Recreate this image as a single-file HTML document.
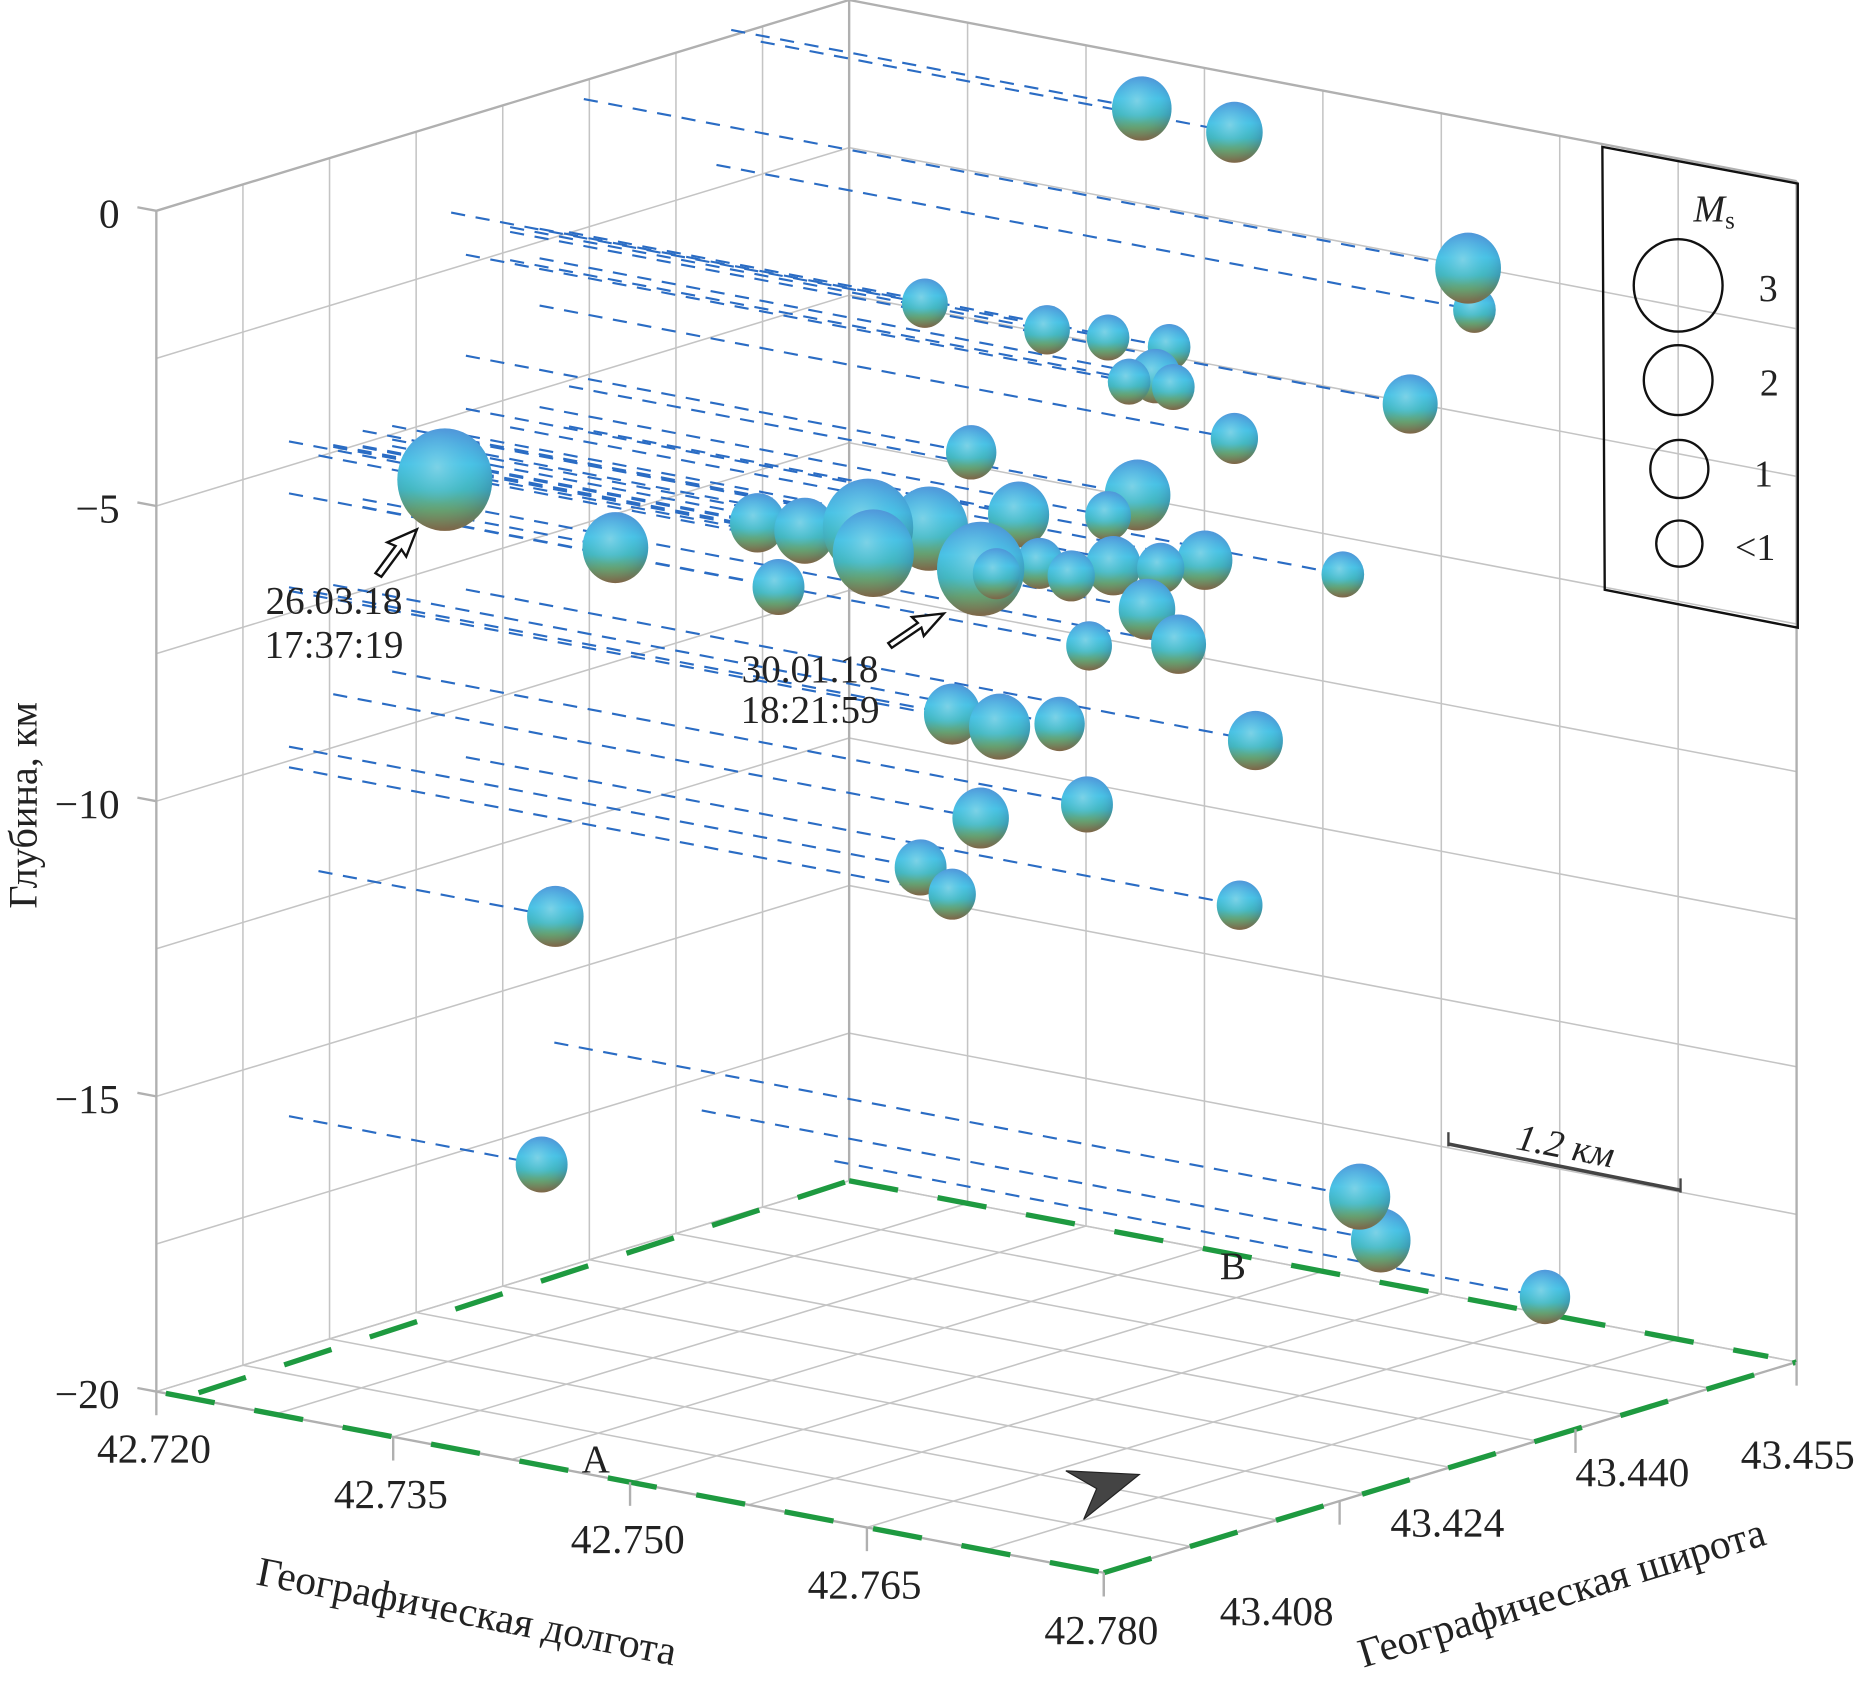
<!DOCTYPE html>
<html><head><meta charset="utf-8"><title>Hypocenters 3D</title>
<style>
html,body{margin:0;padding:0;background:#fff;}
svg{display:block;font-family:"Liberation Serif","DejaVu Serif",serif;}
</style></head>
<body>
<svg id="chart" width="1857" height="1699" viewBox="0 0 1568 1434.6" xmlns="http://www.w3.org/2000/svg">
<defs>
<linearGradient id="sph" x1="0" y1="0" x2="0" y2="1">
<stop offset="0" stop-color="#4f8fd8"/>
<stop offset="0.35" stop-color="#45c0e4"/>
<stop offset="0.6" stop-color="#3fb3b8"/>
<stop offset="0.8" stop-color="#6a9c5a"/>
<stop offset="1" stop-color="#9a6e2a"/>
</linearGradient>
<radialGradient id="hl" cx="0.42" cy="0.38" r="0.6">
<stop offset="0" stop-color="#8fd8e8" stop-opacity="0.75"/>
<stop offset="0.6" stop-color="#60d0ec" stop-opacity="0.15"/>
<stop offset="1" stop-color="#3050a0" stop-opacity="0.25"/>
</radialGradient>
</defs>
<g id="grid"></g>
<g id="lines"></g>
<g id="spheres"></g>
<g id="axes"></g>

<g>
<polygon points="1353,124 1518,155 1518,530 1355,498" fill="none" stroke="#111" stroke-width="2"/>
<text x="1430" y="187" font-size="32" font-style="italic" fill="#222">M<tspan font-size="21" font-style="normal" dy="6">s</tspan></text>
<ellipse cx="1417" cy="241" rx="37.5" ry="39" fill="none" stroke="#111" stroke-width="2"/>
<ellipse cx="1417" cy="321" rx="29" ry="29.5" fill="none" stroke="#111" stroke-width="2"/>
<ellipse cx="1418" cy="396" rx="24.5" ry="24.5" fill="none" stroke="#111" stroke-width="2"/>
<ellipse cx="1418" cy="459" rx="19.5" ry="19.5" fill="none" stroke="#111" stroke-width="2"/>
<text x="1493" y="254" font-size="32" text-anchor="middle" fill="#222">3</text>
<text x="1494" y="334" font-size="32" text-anchor="middle" fill="#222">2</text>
<text x="1489" y="411" font-size="32" text-anchor="middle" fill="#222">1</text>
<text x="1482" y="473" font-size="32" text-anchor="middle" fill="#222">&lt;1</text>
</g>

<g>
<polygon points="352,447 343,470 339,464 322,487 317,484 334,461 327,458" fill="#fff" stroke="#111" stroke-width="2"/>
<text x="282" y="518" font-size="33" text-anchor="middle" fill="#222">26.03.18</text>
<text x="282" y="555" font-size="33" text-anchor="middle" fill="#222">17:37:19</text>
</g>
<g>
<polygon points="797,518 780,537 778,530 753,547 750,543 775,526 770,521" fill="#fff" stroke="#111" stroke-width="2"/>
<text x="684" y="576" font-size="33" text-anchor="middle" fill="#222">30.01.18</text>
<text x="684" y="610" font-size="33" text-anchor="middle" fill="#222">18:21:59</text>
</g>

<g>
<line x1="1223" y1="966" x2="1419" y2="1005" stroke="#444" stroke-width="3"/>
<line x1="1223" y1="956" x2="1223" y2="968" stroke="#444" stroke-width="2"/>
<line x1="1419" y1="995" x2="1419" y2="1007" stroke="#444" stroke-width="2"/>
<text x="1320" y="978" font-size="32" font-style="italic" text-anchor="middle" fill="#222" transform="rotate(11 1320 978)">1.2 км</text>
</g>

<text x="503" y="1243" font-size="33" text-anchor="middle" fill="#222">A</text>
<text x="1041" y="1080" font-size="33" text-anchor="middle" fill="#222">B</text>
<polygon points="900,1242 962,1245 915,1283 926,1257" fill="#444" stroke="#222" stroke-width="1"/>

<text x="0" y="0" font-size="34" text-anchor="middle" fill="#222" transform="translate(31,680) rotate(-90)">Глубина, км</text>
<text x="0" y="0" font-size="35" text-anchor="middle" fill="#222" transform="translate(392,1372) rotate(11)">Географическая долгота</text>
<text x="0" y="0" font-size="35" text-anchor="middle" fill="#222" transform="translate(1322,1356) rotate(-17)">Географическая широта</text>

<script>
const lonTicks = [42.720, 42.735, 42.750, 42.765, 42.780];
const latTicks = [43.408, 43.424, 43.440, 43.455];
const depthTicks = [0, 5, 10, 15, 20];
const depthTickLabels = ["0", "\u22125", "\u221210", "\u221215", "\u221220"];
const eventLon = [42.746,42.750,42.776,42.768,42.750,42.754,42.756,42.758,42.762,42.762,42.759,42.777,42.764,42.752,42.728,42.736,42.745,42.748,42.752,42.757,42.754,42.761,42.762,42.755,42.756,42.756,42.761,42.763,42.761,42.764,42.764,42.765,42.767,42.766,42.751,42.769,42.762,42.765,42.766,42.770,42.764,42.761,42.760,42.762,42.769,42.735,42.736,42.771,42.763,42.765];
const eventLat = [43.447,43.449,43.437,43.446,43.428,43.432,43.434,43.436,43.429,43.432,43.434,43.432,43.434,43.429,43.419,43.422,43.422,43.422,43.422,43.417,43.424,43.420,43.420,43.429,43.434,43.436,43.424,43.424,43.429,43.429,43.432,43.427,43.427,43.422,43.417,43.436,43.417,43.417,43.420,43.429,43.424,43.420,43.417,43.417,43.429,43.419,43.417,43.435,43.445,43.454];
const eventDepth = [-0.1,0.25,0.31,2.11,1.55,2.10,2.28,2.49,2.34,2.66,2.78,2.18,3.58,4.05,4.98,5.95,5.07,5.05,4.79,4.59,4.86,4.88,4.91,4.95,5.30,5.10,5.09,5.20,5.51,5.40,5.49,5.89,6.38,6.08,5.47,5.78,7.06,7.12,7.25,8.01,9.02,9.10,9.76,10.11,10.85,12.02,16.02,16.14,18.05,19.59];
const eventMag = [1.1,0.9,1.5,0,0.2,0.2,0,0,0,0,0.5,0.8,0.3,0.5,3.4,1.5,0.8,1.2,3.1,2.5,2.3,2.9,0.3,1.2,0.2,1.5,0.3,0.3,0.8,0.3,0.8,0.9,0.8,0.2,0.6,0,0.9,1.2,0.5,0.8,0.6,0.9,0.6,0.3,0.2,0.9,0.6,1.2,1.1,0.5];

const NS = "http://www.w3.org/2000/svg";
const LON0 = 42.720, LON1 = 42.780, LAT0 = 43.408, LAT1 = 43.455, DMAX = 20;
function U(lon){ return (lon - LON0) / (LON1 - LON0); }
function V(lat){ return (lat - LAT0) / (LAT1 - LAT0); }
function PX(u, v, d){ return 132 + 800*u + 585*v; }
function PY(u, v, d){ return 178 + 153*u - 178*v + 49.85*d; }
function rOf(m){ return 18 + 6.5*Math.max(0, m); }
function mk(tag, attrs, parent){
  const el = document.createElementNS(NS, tag);
  for (const k in attrs) el.setAttribute(k, attrs[k]);
  parent.appendChild(el);
  return el;
}
const grid = document.getElementById('grid');
const gc = '#c4c4c4';
function seg(parent, a, b, stroke, w, name){
  const l = mk('line', {x1:PX(...a), y1:PY(...a), x2:PX(...b), y2:PY(...b), stroke:stroke, 'stroke-width':w}, parent);
  
  
  return l;
}
for (let k = 0; k <= 8; k++){
  const t = k/8;
  seg(grid, [0,t,0],[0,t,DMAX], gc, 1.3, 'left-wall-vertical-gridline');
  seg(grid, [t,1,0],[t,1,DMAX], gc, 1.3, 'right-wall-vertical-gridline');
  seg(grid, [t,0,DMAX],[t,1,DMAX], gc, 1.3, 'floor-gridline');
  seg(grid, [0,t,DMAX],[1,t,DMAX], gc, 1.3, 'floor-gridline');
  const d = k*2.5;
  seg(grid, [0,0,d],[0,1,d], gc, 1.3, 'left-wall-horizontal-gridline');
  seg(grid, [0,1,d],[1,1,d], gc, 1.3, 'right-wall-horizontal-gridline');
}
seg(grid, [0,0,0],[0,1,0], '#b0b0b0', 2, 'box-edge');
seg(grid, [0,1,0],[1,1,0], '#b0b0b0', 2, 'box-edge');
seg(grid, [0,1,0],[0,1,DMAX], '#b0b0b0', 2, 'box-edge');
seg(grid, [0,0,0],[0,0,DMAX], '#b0b0b0', 2, 'box-edge');
seg(grid, [1,1,0],[1,1,DMAX], '#b0b0b0', 2, 'box-edge');
seg(grid, [0,0,DMAX],[1,0,DMAX], '#b0b0b0', 2, 'box-edge');
seg(grid, [1,0,DMAX],[1,1,DMAX], '#b0b0b0', 2, 'box-edge');
const greenEdges = [[[0.01,0,DMAX],[1,0,DMAX]],[[1,0,DMAX],[1,1,DMAX]],[[0.03,0.02,DMAX],[0,1,DMAX]],[[0,1,DMAX],[0.97,1,DMAX]]];
greenEdges.forEach(e => {
  const l = seg(grid, e[0], e[1], '#1e9a40', 4.5, 'profile-outline');
  l.setAttribute('stroke-dasharray', '42 34');
});

const axes = document.getElementById('axes');
depthTicks.forEach((d, i) => {
  const x = PX(0,0,d), y = PY(0,0,d);
  const t = mk('line', {x1:x-16, y1:y-3, x2:x, y2:y, stroke:'#b0b0b0', 'stroke-width':2}, axes);
  
  
  const tx = mk('text', {x:x-31, y:y+14, 'font-size':35, 'text-anchor':'end', fill:'#222'}, axes);
  tx.textContent = depthTickLabels[i];
  
  
});
lonTicks.forEach(lon => {
  const u = U(lon), x = PX(u,0,DMAX), y = PY(u,0,DMAX);
  const t = mk('line', {x1:x, y1:y, x2:x, y2:y+20, stroke:'#b0b0b0', 'stroke-width':2}, axes);
  
  
  const tx = mk('text', {x:x-2, y:y+60, 'font-size':35, 'text-anchor':'middle', fill:'#222'}, axes);
  tx.textContent = lon.toFixed(3);
  
  
});
const latLabelDX = [146, 91, 48, 1];
const latLabelDY = [44, 30, 48, 90];
latTicks.forEach((lat, i) => {
  const v = V(lat), x = PX(1,v,DMAX), y = PY(1,v,DMAX);
  const t = mk('line', {x1:x, y1:y, x2:x, y2:y+20, stroke:'#b0b0b0', 'stroke-width':2}, axes);
  
  
  const tx = mk('text', {x:x+latLabelDX[i], y:y+latLabelDY[i], 'font-size':35, 'text-anchor':'middle', fill:'#222'}, axes);
  tx.textContent = lat.toFixed(3);
  
  
});

const lines = document.getElementById('lines');
const sph = document.getElementById('spheres');
const order = eventLon.map((_, i) => i).sort((a, b) => (U(eventLon[a]) - V(eventLat[a])) - (U(eventLon[b]) - V(eventLat[b])));
eventLon.forEach((lon, i) => {
  const u = U(lon), v = V(eventLat[i]), d = eventDepth[i];
  const l = mk('line', {x1:PX(0,v,d), y1:PY(0,v,d), x2:PX(u,v,d), y2:PY(u,v,d), stroke:'#2a6cc4', 'stroke-width':1.8, 'stroke-dasharray':'12 9'}, lines);
  
  
});
order.forEach(i => {
  const u = U(eventLon[i]), v = V(eventLat[i]), d = eventDepth[i];
  const r = rOf(eventMag[i]);
  const g = mk('g', {}, sph);
  
  
  mk('ellipse', {cx:PX(u,v,d), cy:PY(u,v,d), rx:r, ry:r*1.08, fill:'url(#sph)'}, g);
  mk('ellipse', {cx:PX(u,v,d), cy:PY(u,v,d), rx:r, ry:r*1.08, fill:'url(#hl)'}, g);
});
</script>
</svg>
</body></html>
